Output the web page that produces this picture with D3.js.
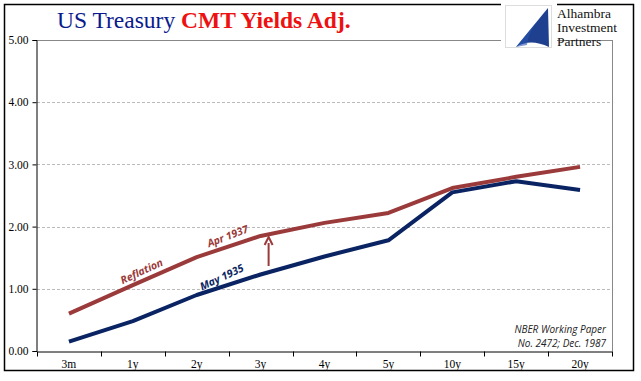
<!DOCTYPE html>
<html><head><meta charset="utf-8">
<script src="https://cdn.jsdelivr.net/npm/d3@7/dist/d3.min.js"></script>
<style>body{margin:0;background:#fff}svg{display:block}</style>
</head><body>
<svg id="c" width="641" height="381"></svg>
<script>
const categories = ["3m","1y","2y","3y","4y","5y","10y","15y","20y"];
const may1935 = [0.15,0.48,0.90,1.23,1.52,1.78,2.55,2.73,2.59];
const apr1937 = [0.60,1.06,1.51,1.85,2.06,2.22,2.62,2.80,2.96];
const yTicks = [0,1,2,3,4,5];

const svg = d3.select("#c");
const m = {l:37, r:612, t:40, b:351};
const x = d3.scaleBand().domain(categories).range([m.l, m.r]);
const xc = d => x(d) + x.bandwidth()/2;
const y = d3.scaleLinear().domain([0,5]).range([m.b, m.t]);

// outer border
svg.append("rect").attr("x",4.5).attr("y",4.5).attr("width",629).attr("height",366)
  .attr("fill","#fff").attr("stroke","#000").attr("stroke-width",1.5);

// gridlines
yTicks.filter(t=>t>0).forEach(t=>{
  svg.append("line").attr("x1",m.l).attr("x2",m.r).attr("y1",Math.round(y(t))+0.5).attr("y2",Math.round(y(t))+0.5)
    .attr("stroke", t===5 ? "#888" : "#bbb").attr("stroke-width",1)
    .attr("stroke-dasharray", t===5 ? null : "3,2");
});
// right border line of plot
svg.append("line").attr("x1",m.r+0.5).attr("x2",m.r+0.5).attr("y1",m.t).attr("y2",m.b).attr("stroke","#888");

// y axis
const ya = d3.axisLeft(y).tickValues(yTicks).tickFormat(d3.format(".2f")).tickSize(4).tickPadding(4);
const gy = svg.append("g").attr("transform",`translate(${m.l-0.5},0)`).call(ya);
gy.select(".domain").attr("stroke","#000");
gy.selectAll(".tick line").attr("stroke","#000");
gy.selectAll("text").attr("font-family","'Liberation Serif','Times New Roman',serif").attr("font-size",11.5).attr("fill","#000");

// x axis
const xa = d3.axisBottom(x).tickSize(0).tickPadding(8);
const gx = svg.append("g").attr("transform",`translate(0,${m.b+0.5})`).call(xa);
gx.select(".domain").attr("stroke","#000");
gx.selectAll("text").attr("font-family","'Liberation Serif','Times New Roman',serif").attr("font-size",11.5).attr("fill","#000");
// band boundary ticks
const bounds = categories.map(c=>x(c)).concat([m.r]);
gx.selectAll(".btick").data(bounds).enter().append("line")
  .attr("x1",d=>Math.round(d)+0.5).attr("x2",d=>Math.round(d)+0.5).attr("y1",0).attr("y2",5).attr("stroke","#000");

// lines
const line = d3.line().x((d,i)=>xc(categories[i])).y(d=>y(d));
svg.append("path").datum(apr1937).attr("d",line).attr("fill","none")
  .attr("stroke","#9b3a3a").attr("stroke-width",4).attr("stroke-linejoin","round");
svg.append("path").datum(may1935).attr("d",line).attr("fill","none")
  .attr("stroke","#0a2463").attr("stroke-width",4).attr("stroke-linejoin","round");

// annotations
const annFont = "'Open Sans','Noto Sans',sans-serif";
function ann(txt, cx, cy, ang, col){
  svg.append("text").attr("transform",`translate(${cx},${cy}) rotate(${ang})`)
    .attr("text-anchor","middle").attr("dominant-baseline","middle")
    .attr("font-family",annFont).attr("font-style","italic").attr("font-weight",700)
    .attr("font-size",10.5).attr("fill",col).text(txt);
}
ann("Reflation", 142, 272, -25, "#9b3a3a");
ann("Apr 1937", 228, 237, -21, "#9b3a3a");
ann("May 1935", 222, 278, -25, "#0a2463");
// arrow
const ax = xc("3y")+8;
svg.append("line").attr("x1",ax).attr("x2",ax).attr("y1",266).attr("y2",243)
  .attr("stroke","#9b3a3a").attr("stroke-width",2);
svg.append("path").attr("d",`M${ax-4},${245} L${ax},${237} L${ax+4},${245}`)
  .attr("fill","none").attr("stroke","#9b3a3a").attr("stroke-width",2);

// NBER note
const nb = svg.append("text").attr("text-anchor","end").attr("font-family",annFont)
  .attr("font-style","italic").attr("font-size",10).attr("fill","#222");
nb.append("tspan").attr("x",606).attr("y",333).text("NBER Working Paper");
nb.append("tspan").attr("x",606).attr("y",347).text("No. 2472; Dec. 1987");

// title
const tt = svg.append("text").attr("x",57).attr("y",28).attr("font-family","'Liberation Serif','Times New Roman',serif").attr("font-size",23.5);
tt.append("tspan").attr("fill","#0a1a8c").text("US Treasury ");
tt.append("tspan").attr("fill","#ee1111").attr("font-weight",700).text("CMT Yields Adj.");

// logo
const lg = svg.append("g");
lg.append("rect").attr("x",501).attr("y",3).attr("width",56).attr("height",46).attr("fill","#fff");
lg.append("rect").attr("x",505.5).attr("y",5.5).attr("width",46).attr("height",42).attr("fill","#fff").attr("stroke","#ddd");
lg.append("path").attr("d","M516,47 L548,8 L549,47 Q530,38 516,47 Z").attr("fill","#1f3f8f");
lg.append("path").attr("d","M516,47 L548,8 Q528,30 527,45 Z").attr("fill","#2a55b0").attr("opacity",0.6);
const lt = lg.append("text").attr("font-family","'Liberation Serif','Times New Roman',serif").attr("font-size",13.5).attr("fill","#111");
lt.append("tspan").attr("x",557).attr("y",18).text("Alhambra");
lt.append("tspan").attr("x",557).attr("y",32).text("Investment");
lt.append("tspan").attr("x",557).attr("y",46).text("Partners");
</script>
</body></html>
